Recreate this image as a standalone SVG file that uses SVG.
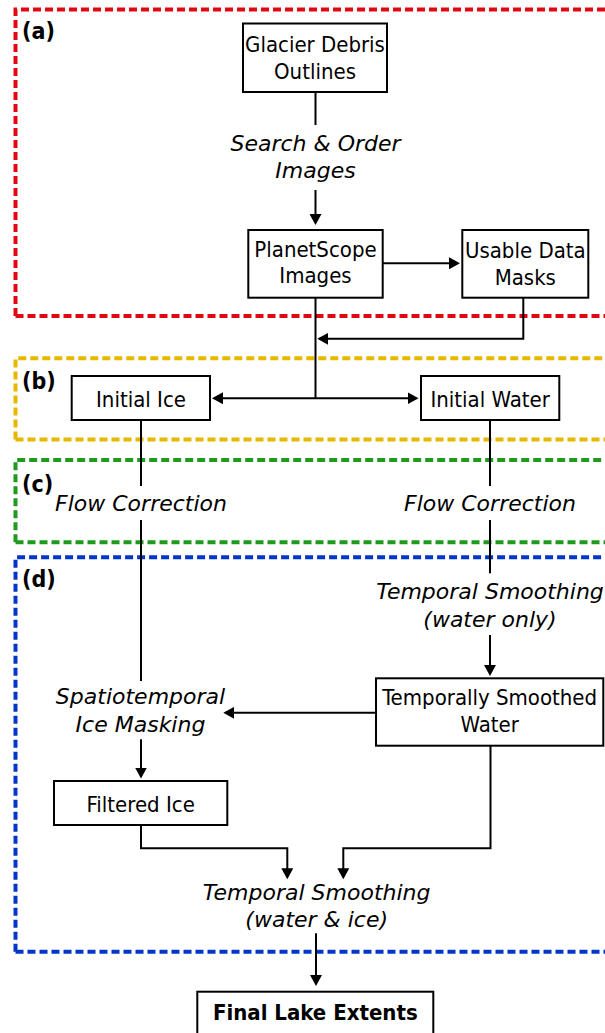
<svg xmlns="http://www.w3.org/2000/svg" width="605" height="1033" viewBox="0 0 605 1033">
  <style>
    .panel { fill: none; stroke-width: 4; stroke-dasharray: 8 4; }
    .box { fill: #ffffff; stroke: #000000; stroke-width: 2; }
    .txt { font-family: "DejaVu Sans Condensed", "DejaVu Sans", sans-serif; font-stretch: condensed; font-size: 22px; fill: #000000; text-anchor: middle; }
    .step { font-family: "DejaVu Sans", "Liberation Sans", sans-serif; font-style: italic; font-size: 22px; fill: #000000; text-anchor: middle; }
    .bold { font-family: "DejaVu Sans Condensed", "DejaVu Sans", sans-serif; font-stretch: condensed; font-weight: bold; font-size: 22px; fill: #000000; text-anchor: middle; }
    .tag { font-family: "DejaVu Sans Condensed", "DejaVu Sans", sans-serif; font-stretch: condensed; font-weight: bold; font-size: 23px; fill: #000000; }
    .wire { fill: none; stroke: #000000; stroke-width: 2; }
  </style>
  <defs>
    <marker id="arrow" markerUnits="userSpaceOnUse" markerWidth="12" markerHeight="12" refX="9" refY="6" orient="auto-start-reverse">
      <path d="M0,0 L11,6 L0,12 Z" fill="#000000"/>
    </marker>
  </defs>

  <rect width="605" height="1033" fill="#ffffff"/>

  <!-- stage panels -->
  <g id="panel-a">
    <path class="panel" stroke="#e30613" d="M15.5,316 V9.5 H640 M15.5,316 H640"/>
    <text class="tag" x="22" y="38.5">(a)</text>
  </g>
  <g id="panel-b">
    <path class="panel" stroke="#e6b800" d="M15.5,439.5 V358.3 H640 M15.5,439.5 H640"/>
    <text class="tag" x="22" y="389">(b)</text>
  </g>
  <g id="panel-c">
    <path class="panel" stroke="#1f9a1f" d="M15.5,542.3 V460 H640 M15.5,542.3 H640"/>
    <text class="tag" x="22" y="491.7">(c)</text>
  </g>
  <g id="panel-d">
    <path class="panel" stroke="#0037c8" d="M15.5,951.7 V557.3 H640 M15.5,951.7 H640"/>
    <text class="tag" x="22" y="586.7">(d)</text>
  </g>

  <!-- connectors -->
  <g id="connectors">
    <path class="wire" d="M315.5,92 V125"/>
    <path class="wire" d="M315.5,190 V223" marker-end="url(#arrow)"/>
    <path class="wire" d="M382.7,263.3 H458" marker-end="url(#arrow)"/>
    <path class="wire" d="M315.5,297.7 V398.3"/>
    <path class="wire" d="M523.3,297.7 V338.8 H319.3" marker-end="url(#arrow)"/>
    <path class="wire" d="M214,398.3 H416.5" marker-start="url(#arrow)" marker-end="url(#arrow)"/>
    <path class="wire" d="M141,420 V486"/>
    <path class="wire" d="M141,520 V681"/>
    <path class="wire" d="M490,420 V486"/>
    <path class="wire" d="M490,520 V573.3"/>
    <path class="wire" d="M490,635 V674" marker-end="url(#arrow)"/>
    <path class="wire" d="M376,712.8 H225.3" marker-end="url(#arrow)"/>
    <path class="wire" d="M141,739.3 V776.5" marker-end="url(#arrow)"/>
    <path class="wire" d="M141,825 V848.3 H287.3 V877.3" marker-end="url(#arrow)"/>
    <path class="wire" d="M490.5,745.7 V848.3 H343.3 V877.3" marker-end="url(#arrow)"/>
    <path class="wire" d="M316,933.3 V984" marker-end="url(#arrow)"/>
  </g>

  <!-- nodes -->
  <g id="glacier-debris-outlines">
    <rect class="box" x="243" y="23.5" width="144" height="68.5"/>
    <text class="txt" x="315" y="51.7">Glacier Debris</text>
    <text class="txt" x="315" y="79">Outlines</text>
  </g>
  <g id="search-order-images">
    <text class="step" x="315.5" y="150.7">Search &amp; Order</text>
    <text class="step" x="315.5" y="178.3">Images</text>
  </g>
  <g id="planetscope-images">
    <rect class="box" x="248.3" y="230" width="134.4" height="67.7"/>
    <text class="txt" x="315.5" y="256.5">PlanetScope</text>
    <text class="txt" x="315.5" y="283.3">Images</text>
  </g>
  <g id="usable-data-masks">
    <rect class="box" x="462.3" y="230" width="126" height="67.7"/>
    <text class="txt" x="525.3" y="258">Usable Data</text>
    <text class="txt" x="525.3" y="285">Masks</text>
  </g>
  <g id="initial-ice">
    <rect class="box" x="71.7" y="376" width="138.3" height="44"/>
    <text class="txt" x="141" y="406.5">Initial Ice</text>
  </g>
  <g id="initial-water">
    <rect class="box" x="421" y="376" width="138.3" height="44"/>
    <text class="txt" x="490.2" y="406.5">Initial Water</text>
  </g>
  <g id="flow-correction-ice">
    <text class="step" x="141" y="511">Flow Correction</text>
  </g>
  <g id="flow-correction-water">
    <text class="step" x="490" y="511">Flow Correction</text>
  </g>
  <g id="temporal-smoothing-water">
    <text class="step" x="490" y="599.3">Temporal Smoothing</text>
    <text class="step" x="490" y="626.7">(water only)</text>
  </g>
  <g id="temporally-smoothed-water">
    <rect class="box" x="376" y="678.3" width="227.3" height="67.4"/>
    <text class="txt" x="489.7" y="705">Temporally Smoothed</text>
    <text class="txt" x="489.7" y="731.7">Water</text>
  </g>
  <g id="spatiotemporal-ice-masking">
    <text class="step" x="140.5" y="704.3">Spatiotemporal</text>
    <text class="step" x="140.5" y="731.7">Ice Masking</text>
  </g>
  <g id="filtered-ice">
    <rect class="box" x="54" y="781" width="173.3" height="44"/>
    <text class="txt" x="140.7" y="811.7">Filtered Ice</text>
  </g>
  <g id="temporal-smoothing-water-ice">
    <text class="step" x="316.7" y="900">Temporal Smoothing</text>
    <text class="step" x="316.7" y="927.3">(water &amp; ice)</text>
  </g>
  <g id="final-lake-extents">
    <rect class="box" x="197.3" y="991.7" width="236" height="60"/>
    <text class="bold" x="315.3" y="1020">Final Lake Extents</text>
  </g>
</svg>
